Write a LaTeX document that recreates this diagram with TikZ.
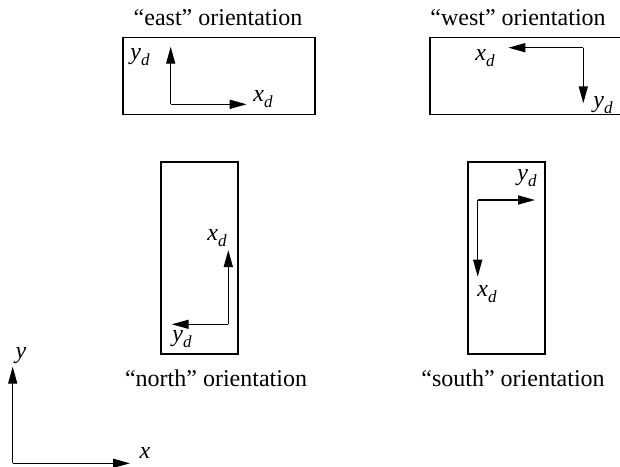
\documentclass[tikz,border=0pt]{standalone}
\usepackage{fontspec}
\setmainfont{Liberation Serif}
\usetikzlibrary{arrows.meta}
\newcommand\lbl[2]{\textit{#1}\raisebox{-0.28em}{\fontsize{17}{17}\selectfont\textit{#2}}}
\tikzset{
  frame/.style={draw, line width=1.3pt, inner sep=0pt, minimum width=#1},
  axis/.style={line width=1.4pt, -{Triangle[length=17pt,width=9pt]}},
  lab/.style={inner sep=1pt, font=\fontsize{24}{28}\selectfont},
  title/.style={inner sep=0pt, font=\fontsize{24}{28}\selectfont}
}
\begin{document}
\begin{tikzpicture}[x=1pt,y=-1pt]
\useasboundingbox (0,0) rectangle (620,466);
\clip (0,0) rectangle (620,466);
% titles
\node[title] (teast) at (218,18) {``east'' orientation};
\node[title] (twest) at (518,18) {``west'' orientation};
\node[title] (tnorth) at (216,378) {``north'' orientation};
\node[title] (tsouth) at (513,378) {``south'' orientation};
% boxes
\node[frame=192pt, minimum height=77.5pt] (beast) at (219,76) {};
\node[frame=200pt, minimum height=77pt] (bwest) at (530,76) {};
\node[frame=77pt, minimum height=192pt] (bnorth) at (199.5,258) {};
\node[frame=77pt, minimum height=192pt] (bsouth) at (506.5,258) {};
% east
\coordinate (ec) at (170.7,104.3);
\coordinate (ey) at (170.7,46.7);
\coordinate (ex) at (246.7,104.3);
\draw[axis] (ec) -- (ey);
\draw[axis] (ec) -- (ex);
\node[lab] (eyl) at (140,57) {\lbl{y}{d}};
\node[lab] (exl) at (263,99) {\lbl{x}{d}};
% west
\coordinate (wc) at (583.3,47.7);
\coordinate (wx) at (508.3,47.7);
\coordinate (wy) at (583.3,103.3);
\draw[axis] (wc) -- (wx);
\draw[axis] (wc) -- (wy);
\node[lab] (wxl) at (485,58) {\lbl{x}{d}};
\node[lab] (wyl) at (603,105) {\lbl{y}{d}};
% north
\coordinate (nc) at (228.3,324.3);
\coordinate (nx) at (228.3,250);
\coordinate (ny) at (171.7,324.3);
\draw[axis] (nc) -- (nx);
\draw[axis] (nc) -- (ny);
\node[lab] (nxl) at (217,238) {\lbl{x}{d}};
\node[lab] (nyl) at (182,339) {\lbl{y}{d}};
% south
\coordinate (sc) at (477.7,200);
\coordinate (sy) at (535,200);
\coordinate (sx) at (477.7,276.7);
\draw[axis] (sc) -- (sy);
\draw[axis] (sc) -- (sx);
\node[lab] (syl) at (527,178) {\lbl{y}{d}};
\node[lab] (sxl) at (487,294) {\lbl{x}{d}};
% global axes
\coordinate (oc) at (12.7,463.3);
\coordinate (oy) at (12.7,366.7);
\coordinate (ox) at (130,463.3);
\draw[axis] (oc) -- (oy);
\draw[axis] (oc) -- (ox);
\node[lab] (oyl) at (21,356) {\textit{y}};
\node[lab] (oxl) at (145,453) {\textit{x}};
\end{tikzpicture}
\end{document}
